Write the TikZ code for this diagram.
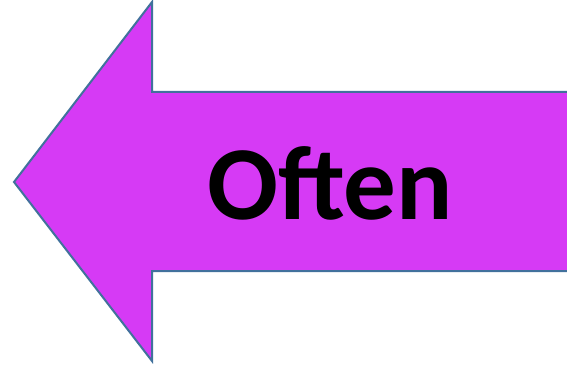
\documentclass[tikz,border=0pt]{standalone}
\usepackage{fontspec}
\setmainfont{Carlito}
\definecolor{arrowfill}{RGB}{214,58,245}
\definecolor{arrowline}{RGB}{65,113,156}
\tikzset{bigarrow/.style={fill=arrowfill,draw=arrowline,line width=2pt,line join=miter}}
\begin{document}
\begin{tikzpicture}[x=1pt,y=-1pt]
\useasboundingbox (0,0) rectangle (567,366);
\begin{scope}
\clip (0,0) rectangle (567,366);
\draw[bigarrow] (14,182) -- (152,2) -- (152,92) -- (580,92) -- (580,271) -- (152,271) -- (152,361) -- cycle;
\end{scope}
\node[font=\fontsize{105}{110}\selectfont\bfseries, inner sep=0pt] (label) at (330,183) {Often};
\end{tikzpicture}
\end{document}
